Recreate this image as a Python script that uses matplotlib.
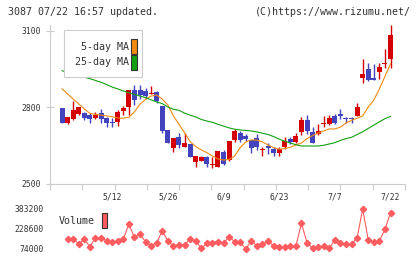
import numpy as np
import matplotlib.pyplot as plt
from matplotlib.patches import Rectangle

W, H = 420, 259

# daily candles (61 sessions, 4/23 .. 7/22)
opens = [2816, 2797, 2738, 2755, 2775, 2780, 2771, 2760, 2780, 2760,
         2745, 2745, 2786, 2803, 2867, 2869, 2865, 2854, 2860, 2806,
         2712, 2640, 2683, 2647, 2657, 2588, 2592, 2607, 2574, 2568,
         2627, 2594, 2673, 2701, 2690, 2673, 2679, 2635, 2650, 2637,
         2623, 2644, 2677, 2664, 2703, 2751, 2703, 2695, 2737, 2735,
         2768, 2775, 2759, 2756, 2767, 2917, 2951, 2915, 2940, 2969,
         2989]
highs = [2816, 2797, 2762, 2827, 2800, 2784, 2777, 2784, 2793, 2764,
         2760, 2790, 2804, 2867, 2888, 2888, 2875, 2884, 2866, 2806,
         2712, 2679, 2699, 2699, 2657, 2610, 2611, 2611, 2607, 2631,
         2633, 2669, 2716, 2709, 2696, 2673, 2696, 2644, 2660, 2646,
         2644, 2686, 2686, 2699, 2764, 2771, 2725, 2735, 2767, 2771,
         2775, 2794, 2764, 2764, 2819, 2989, 2973, 2971, 2973, 3029,
         3123]
lows = [2816, 2741, 2734, 2751, 2771, 2751, 2738, 2755, 2738, 2725,
        2725, 2727, 2770, 2771, 2810, 2832, 2832, 2854, 2817, 2699,
        2660, 2627, 2640, 2647, 2605, 2568, 2590, 2566, 2562, 2568,
        2575, 2590, 2666, 2666, 2668, 2623, 2633, 2610, 2618, 2610,
        2610, 2636, 2658, 2660, 2692, 2696, 2660, 2692, 2725, 2731,
        2735, 2755, 2738, 2738, 2767, 2897, 2905, 2908, 2911, 2954,
        2954]
closes = [2816, 2741, 2762, 2790, 2800, 2760, 2755, 2771, 2755, 2738,
          2738, 2782, 2797, 2867, 2829, 2849, 2847, 2857, 2827, 2709,
          2660, 2679, 2653, 2660, 2607, 2610, 2605, 2579, 2576, 2631,
          2579, 2669, 2709, 2673, 2677, 2643, 2647, 2637, 2643, 2623,
          2636, 2670, 2666, 2688, 2751, 2708, 2662, 2708, 2739, 2759,
          2741, 2768, 2754, 2754, 2800, 2931, 2908, 2908, 2958, 2976,
          3084]

ma5 = [None, 2873, 2853, 2833, 2814, 2794, 2777, 2773, 2770, 2767,
       2764, 2759, 2758, 2762, 2783, 2813, 2832, 2845, 2849, 2833,
       2810, 2767, 2734, 2701, 2666, 2647, 2634, 2623, 2610, 2598,
       2594, 2596, 2610, 2643, 2665, 2673, 2672, 2665, 2653, 2643,
       2636, 2639, 2644, 2653, 2661, 2678, 2690, 2700, 2708, 2716,
       2716, 2723, 2739, 2750, 2758, 2767, 2802, 2829, 2873, 2922,
       2971]
ma25 = [None, 2944, 2938, 2931, 2925, 2919, 2913, 2906, 2899, 2890,
        2880, 2873, 2865, 2858, 2851, 2845, 2839, 2830, 2822, 2815,
        2802, 2793, 2789, 2778, 2770, 2763, 2753, 2747, 2742, 2734,
        2727, 2720, 2715, 2712, 2710, 2708, 2704, 2699, 2694, 2686,
        2676, 2668, 2661, 2654, 2649, 2649, 2649, 2649, 2652, 2657,
        2662, 2671, 2678, 2683, 2694, 2705, 2718, 2731, 2744, 2756,
        2765]

volume = [None, None, 151300, 151300, 112650, 149000, 91800, 161300, 161300, 138200,
          128000, 135800, 151300, 265000, 164000, 187600, 130400, 97200, 122700, 215500,
          135800, 97200, 104900, 104900, 151300, 138200, 79400, 118000, 122700, 130400,
          118000, 169000, 130400, 125500, 74000, 138200, 97200, 110300, 138200, 97200,
          87100, 87100, 97200, 97200, 272700, 122700, 79400, 87100, 97200, 79400,
          143600, 118000, 110300, 110300, 161300, 383200, 143600, 125500, 135800, 226300,
          354600]

date_idx = [10, 20, 30, 40, 50, 60]
date_labels = ["5/12", "5/26", "6/9", "6/23", "7/7", "7/22"]
price_ticks = [2500, 2800, 3100]
vol_ticks = [74000, 228600, 383200]

RED = "#d40000"
BLUE = "#4343bd"
ORANGE = "#f08a10"
GREEN = "#12a012"
VOLC = "#ff5c5f"
GRAY = "#cccccc"
TXT = "#333333"
MONO = "DejaVu Sans Mono"


def fx(px):
    return px / W


def fy(py):
    return 1 - py / H


fig = plt.figure(figsize=(4.2, 2.59), dpi=100)
xlim = (-1.17, 62.6)

# price panel
ax = fig.add_axes([fx(50), fy(184), fx(405) - fx(50), fy(25) - fy(184)])
x = np.arange(len(opens))
o = np.array(opens, float)
c = np.array(closes, float)
up = c >= o
cols = np.where(up, RED, BLUE)
bottom = np.minimum(o, c)
height = np.maximum(np.abs(c - o), 3.5)
ax.vlines(x, lows, highs, colors=cols, lw=1, zorder=2)
ax.bar(x, height, bottom=bottom, width=0.9, color=cols, lw=0, zorder=3)
ax.plot(x, np.array(ma5, float), color=ORANGE, lw=0.8, zorder=4)
ax.plot(x, np.array(ma25, float), color=GREEN, lw=0.8, zorder=4)

ax.set_xlim(*xlim)
ax.set_ylim(2500, 3123.5)
for s in ["top", "right"]:
    ax.spines[s].set_visible(False)
for s in ["left", "bottom"]:
    ax.spines[s].set_color(GRAY)
    ax.spines[s].set_linewidth(0.8)
ax.set_yticks(price_ticks)
ax.set_yticklabels([str(v) for v in price_ticks], fontsize=5.8, family=MONO, color=TXT)
ax.tick_params(axis="y", direction="inout", length=5.5, width=0.8, color=GRAY, pad=4)
ax.set_xticks(np.linspace(xlim[0], xlim[1], 12))
ax.set_xticklabels([])
ax.tick_params(axis="x", direction="out", length=4.3, width=0.8, color=GRAY)
for i, lab in zip(date_idx, date_labels):
    ax.text(i, -13 / 159, lab, transform=ax.get_xaxis_transform(), ha="center",
            va="center", fontsize=5.8, family=MONO, color=TXT)

# MA legend box
fig.patches.append(Rectangle((fx(64.3), fy(76.7)), fx(142.3) - fx(64.3), fy(30) - fy(76.7),
                             transform=fig.transFigure, facecolor="white",
                             edgecolor=GRAY, lw=0.8, zorder=5))
for ty, lab, col in [(46.5, "5-day MA", ORANGE), (62.3, "25-day MA", GREEN)]:
    fig.text(fx(129), fy(ty), lab, ha="right", va="center", fontsize=7.2,
             family=MONO, color=TXT, zorder=6)
    fig.patches.append(Rectangle((fx(131), fy(ty + 7.5)), fx(6), 15 / H,
                                 transform=fig.transFigure, facecolor=col,
                                 edgecolor="#333333", lw=0.8, zorder=6))

# volume panel
av = fig.add_axes([fx(50), fy(249), fx(405) - fx(50), fy(209) - fy(249)])
av.plot(x, np.array(volume, float), color=VOLC, lw=0.8, marker="D", ms=3.2,
        mec=VOLC, mfc=VOLC, clip_on=False)
av.set_xlim(*xlim)
av.set_ylim(74000, 383200)
for s in av.spines.values():
    s.set_visible(False)
av.set_xticks([])
av.set_yticks(vol_ticks)
av.set_yticklabels([str(v) for v in vol_ticks], fontsize=5.8, family=MONO, color=TXT)
av.tick_params(axis="y", length=0, pad=4.5)
fig.text(fx(59), fy(221), "Volume", ha="left", va="center", fontsize=7.2,
         family=MONO, color=TXT)
fig.patches.append(Rectangle((fx(101.7), fy(228.3)), fx(5.6), 15.6 / H,
                             transform=fig.transFigure, facecolor=VOLC,
                             edgecolor="#333333", lw=0.8, zorder=6))

# header
fig.text(fx(8), fy(12), "3087 07/22 16:57 updated.", ha="left", va="center",
         fontsize=7.2, family=MONO, color=TXT)
fig.text(fx(411), fy(12), "(C)https://www.rizumu.net/", ha="right", va="center",
         fontsize=7.2, family=MONO, color=TXT)

fig.savefig("out.png", dpi=100)
